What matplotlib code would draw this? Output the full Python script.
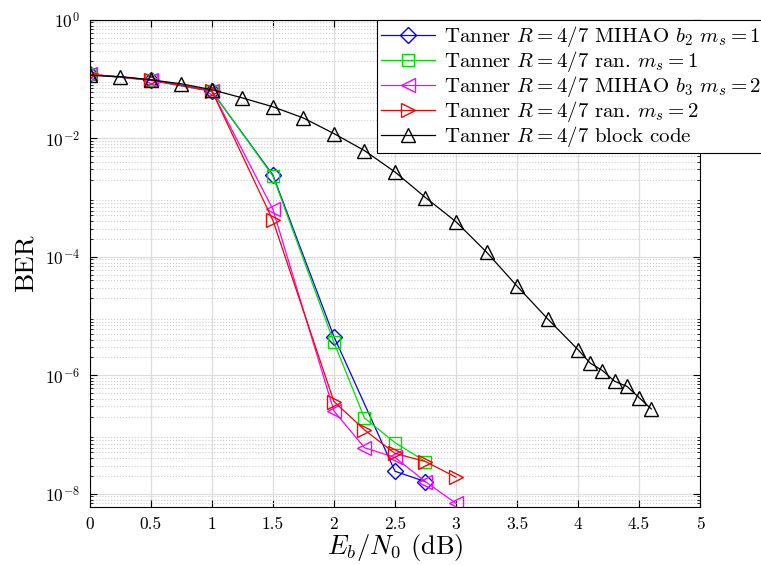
import numpy as np
import matplotlib
matplotlib.use("Agg")
import matplotlib.pyplot as plt

plt.rcParams['font.family'] = 'serif'
plt.rcParams['font.serif'] = ['cmr10']
plt.rcParams['mathtext.fontset'] = 'cm'
plt.rcParams['axes.formatter.use_mathtext'] = True

# Eb/N0 (dB) and BER
ebn0_b2 = [0, 0.5, 1, 1.5, 2, 2.5, 2.75]
ber_b2 = [0.12, 0.095, 0.062, 2.4e-3, 4.5e-6, 2.4e-8, 1.6e-8]

ebn0_ran1 = [0, 0.5, 1, 1.5, 2, 2.25, 2.5, 2.75]
ber_ran1 = [0.12, 0.097, 0.063, 2.3e-3, 3.6e-6, 1.9e-7, 7.3e-8, 3.5e-8]

ebn0_b3 = [0, 0.5, 1, 1.5, 2, 2.25, 2.5, 2.75, 3]
ber_b3 = [0.12, 0.097, 0.063, 6.3e-4, 2.5e-7, 6.0e-8, 4.1e-8, 1.6e-8, 6.9e-9]

ebn0_ran2 = [0, 0.5, 1, 1.5, 2, 2.25, 2.5, 2.75, 3]
ber_ran2 = [0.12, 0.097, 0.063, 4.1e-4, 3.6e-7, 1.2e-7, 4.8e-8, 3.5e-8, 1.9e-8]

ebn0_blk = [0, 0.25, 0.5, 0.75, 1, 1.25, 1.5, 1.75, 2, 2.25, 2.5, 2.75, 3,
            3.25, 3.5, 3.75, 4, 4.1, 4.2, 4.3, 4.4, 4.5, 4.6]
ber_blk = [0.115, 0.11, 0.097, 0.083, 0.066, 0.048, 0.034, 0.022, 0.012,
           6.2e-3, 2.7e-3, 1.0e-3, 3.9e-4, 1.2e-4, 3.2e-5, 9.0e-6, 2.7e-6,
           1.6e-6, 1.2e-6, 7.9e-7, 6.5e-7, 4.2e-7, 2.7e-7]

labels = [r'Tanner $R=4/7$ MIHAO $b_2$ $m_s=1$',
          r'Tanner $R=4/7$ ran. $m_s=1$',
          r'Tanner $R=4/7$ MIHAO $b_3$ $m_s=2$',
          r'Tanner $R=4/7$ ran. $m_s=2$',
          r'Tanner $R=4/7$ block code']

fig = plt.figure(figsize=(7.61, 5.65), dpi=100)
ax = fig.add_axes([0.118, 0.103, 0.802, 0.862])

ms = 10
ax.semilogy(ebn0_b2, ber_b2, color='blue', marker='D', markersize=8, mfc='none', lw=0.9, label=labels[0])
ax.semilogy(ebn0_ran1, ber_ran1, color='#00e000', marker='s', markersize=8, mfc='none', lw=0.9, label=labels[1])
ax.semilogy(ebn0_b3, ber_b3, color='magenta', marker='<', markersize=ms, mfc='none', lw=0.9, label=labels[2])
ax.semilogy(ebn0_ran2, ber_ran2, color='red', marker='>', markersize=ms, mfc='none', lw=0.9, label=labels[3])
ax.semilogy(ebn0_blk, ber_blk, color='black', marker='^', markersize=ms, mfc='none', lw=0.9, label=labels[4])

ax.set_xlim(0, 5)
ax.set_ylim(10 ** -8.22, 1)
ax.set_xticks(np.arange(0, 5.01, 0.5))
ax.set_xticklabels(['0', '0.5', '1', '1.5', '2', '2.5', '3', '3.5', '4', '4.5', '5'])
ax.set_yticks([1e-8, 1e-6, 1e-4, 1e-2, 1e0])
ax.yaxis.set_minor_locator(matplotlib.ticker.LogLocator(base=10, subs=np.arange(2, 10), numticks=20))
ax.yaxis.set_minor_formatter(matplotlib.ticker.NullFormatter())

ax.grid(True, which='major', color='#dddddd', lw=0.9)
ax.grid(True, which='minor', axis='y', color='#cccccc', ls=':', lw=0.8)
ax.set_axisbelow(True)
ax.tick_params(which='both', direction='in', top=True, right=True, labelsize=12.5)
ax.tick_params(which='major', length=5, pad=7)
ax.tick_params(which='minor', length=2.5)

ax.set_xlabel(r'$E_b/N_0$ (dB)', fontsize=19, labelpad=0)
ax.set_ylabel('BER', fontsize=19.5, labelpad=5)

leg = ax.legend(loc='upper left', bbox_to_anchor=(377 / 761, 1 - 20 / 565),
                bbox_transform=fig.transFigure, fontsize=15, frameon=True,
                fancybox=False, edgecolor='black', framealpha=1,
                handlelength=2.6, borderaxespad=0, borderpad=0.2, labelspacing=0.0,
                handletextpad=0.4)
leg.get_frame().set_linewidth(0.8)

fig.savefig('out.png', dpi=100)
